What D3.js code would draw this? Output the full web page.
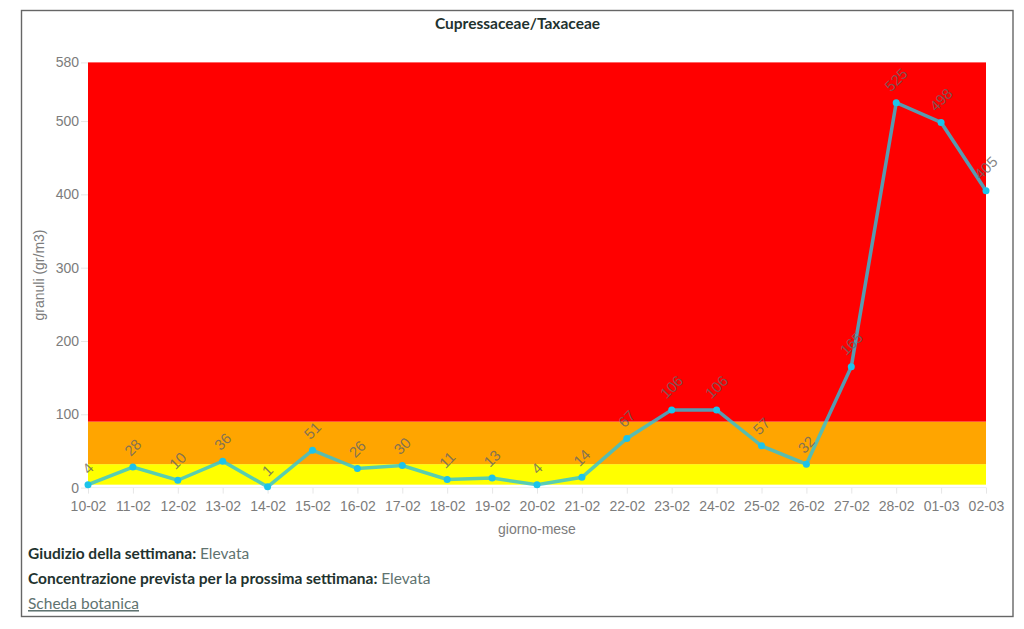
<!DOCTYPE html>
<html>
<head>
<meta charset="utf-8">
<script src="https://d3js.org/d3.v7.min.js"></script>
<style>
  html, body { margin: 0; padding: 0; background: #fff; }
  svg { display: block; }
  .axis text { font-family: "Liberation Sans", sans-serif; font-size: 14px; fill: #7c7c7c; }
  .axis line { stroke: #e6e6e6; }
  .axis path { display: none; }
  .info { font-family: "Lato", sans-serif; font-size: 15.5px; fill: #5f7370; }
  .info .strong { font-weight: 700; fill: #1f332f; }
</style>
</head>
<body>
<svg width="1024" height="629"></svg>
<script>
  // values
  var days = ["10-02","11-02","12-02","13-02","14-02","15-02","16-02","17-02","18-02","19-02","20-02",
              "21-02","22-02","23-02","24-02","25-02","26-02","27-02","28-02","01-03","02-03"];
  var values = [4,28,10,36,1,51,26,30,11,13,4,14,67,106,106,57,32,165,525,498,405];
  var yTicks = [0,100,200,300,400,500,580];
  var bandLimits = [4,32,90,580];
  var bandColors = ["#ffff00","#ffa500","#ff0000"];

  var svg = d3.select("svg");
  var plotLeft = 88, plotRight = 986, plotTop = 62.4, plotBottom = 487.6;

  var x = d3.scalePoint().domain(days).range([plotLeft, plotRight]);
  var y = d3.scaleLinear().domain([0, 580]).range([plotBottom, plotTop]);

  // frame
  svg.append("rect")
    .attr("x", 21.5).attr("y", 10.5)
    .attr("width", 991.5).attr("height", 606)
    .attr("fill", "none").attr("stroke", "#666").attr("stroke-width", 1.4);

  // title
  svg.append("text")
    .attr("x", 517.5).attr("y", 28.5)
    .attr("text-anchor", "middle")
    .attr("font-family", "Lato, sans-serif").attr("font-size", 15.5).attr("font-weight", 700)
    .attr("fill", "#1f332f")
    .text("Cupressaceae/Taxaceae");

  // axes
  svg.append("g").attr("class", "axis")
    .attr("transform", "translate(0," + plotBottom + ")")
    .call(d3.axisBottom(x).tickSize(6).tickPadding(7));
  svg.append("g").attr("class", "axis")
    .attr("transform", "translate(" + plotLeft + ",0)")
    .call(d3.axisLeft(y).tickValues(yTicks).tickFormat(d3.format("d")).tickSize(7).tickPadding(2));

  svg.append("line")
    .attr("x1", plotLeft).attr("x2", plotRight)
    .attr("y1", plotBottom).attr("y2", plotBottom)
    .attr("stroke", "#eee");

  // coloured bands
  svg.append("g").selectAll("rect")
    .data(bandColors).enter().append("rect")
    .attr("x", plotLeft)
    .attr("width", plotRight - plotLeft)
    .attr("y", function(d, i) { return y(bandLimits[i + 1]); })
    .attr("height", function(d, i) { return y(bandLimits[i]) - y(bandLimits[i + 1]); })
    .attr("fill", function(d) { return d; });

  // line and points
  var line = d3.line()
    .x(function(d, i) { return x(days[i]); })
    .y(function(d) { return y(d); });

  svg.append("path")
    .datum(values)
    .attr("d", line)
    .attr("fill", "none")
    .attr("stroke", "#2ec2dc")
    .attr("stroke-opacity", 0.8)
    .attr("stroke-width", 3.5);

  svg.append("g").selectAll("circle")
    .data(values).enter().append("circle")
    .attr("cx", function(d, i) { return x(days[i]); })
    .attr("cy", function(d) { return y(d); })
    .attr("r", 3.5)
    .attr("fill", "#1cc3ea");

  // rotated value labels
  svg.append("g").selectAll("text")
    .data(values).enter().append("text")
    .attr("transform", function(d, i) {
      var off = 13 + String(d).length * 3.3;
      return "translate(" + x(days[i]) + "," + (y(d) - off) + ") rotate(-45)";
    })
    .attr("text-anchor", "middle")
    .attr("dy", "0.35em")
    .attr("font-family", "Liberation Sans, sans-serif")
    .attr("font-size", 15)
    .attr("fill", "#666")
    .attr("fill-opacity", 0.8)
    .text(function(d) { return d; });

  // axis titles
  svg.append("text")
    .attr("transform", "translate(44,275) rotate(-90)")
    .attr("text-anchor", "middle")
    .attr("font-family", "Liberation Sans, sans-serif").attr("font-size", 14).attr("fill", "#7c7c7c")
    .text("granuli (gr/m3)");
  svg.append("text")
    .attr("x", 537).attr("y", 534)
    .attr("text-anchor", "middle")
    .attr("font-family", "Liberation Sans, sans-serif").attr("font-size", 14).attr("fill", "#7c7c7c")
    .text("giorno-mese");

  // text under the chart
  var t1 = svg.append("text").attr("class", "info").attr("x", 28).attr("y", 559);
  t1.append("tspan").attr("class", "strong").text("Giudizio della settimana: ");
  t1.append("tspan").text("Elevata");
  var t2 = svg.append("text").attr("class", "info").attr("x", 28).attr("y", 584);
  t2.append("tspan").attr("class", "strong").text("Concentrazione prevista per la prossima settimana: ");
  t2.append("tspan").text("Elevata");
  svg.append("text").attr("class", "info").attr("x", 28).attr("y", 609)
    .attr("text-decoration", "underline")
    .text("Scheda botanica");
</script>
</body>
</html>
